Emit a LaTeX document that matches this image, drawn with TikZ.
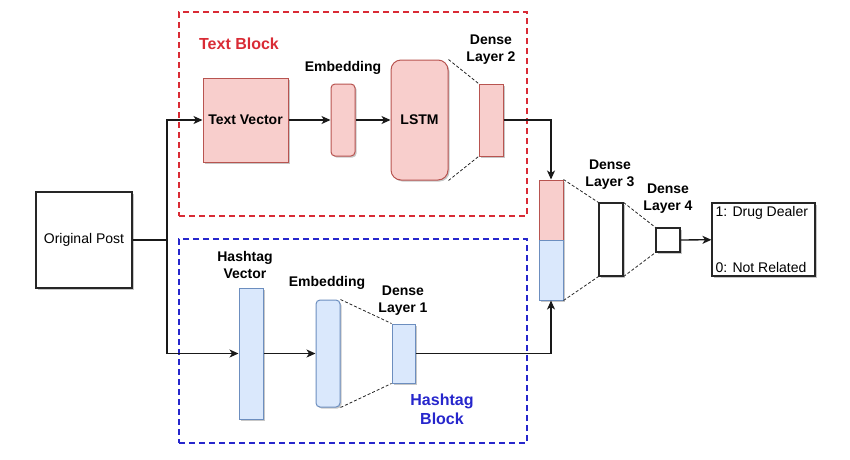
\documentclass[tikz,border=0pt]{standalone}
\usepackage{fontspec}
\setmainfont{Liberation Sans}
\usetikzlibrary{positioning, arrows.meta, shadows}
\definecolor{txtline}{HTML}{b85450}
\definecolor{txtfill}{HTML}{f8cecc}
\definecolor{hashline}{HTML}{6c8ebf}
\definecolor{hashfill}{HTML}{dae8fc}
\definecolor{txtblock}{HTML}{d92b35}
\definecolor{hashblock}{HTML}{2626cc}

\begin{document}
\begin{tikzpicture}[x=1pt, y=-1pt, font=\fontsize{14}{17}\selectfont,
  shd/.style={drop shadow={shadow xshift=1.5pt, shadow yshift=-1.5pt, fill=black, opacity=0.22}},
  tb/.style={draw=txtline, fill=txtfill, line width=1pt, inner sep=0pt, shd},
  hb/.style={draw=hashline, fill=hashfill, line width=1pt, inner sep=0pt, shd},
  pb/.style={draw=black!85, fill=white, line width=1.1pt, inner sep=0pt, shd},
  blk/.style={line width=1.8pt, dash pattern=on 6pt off 4pt, minimum width=348, minimum height=204, inner sep=0pt},
  lbl/.style={font=\fontsize{14}{17}\selectfont\bfseries, align=center, inner sep=0pt},
  arr/.style={-{Stealth[length=9pt, width=8pt, inset=2.5pt]}, line width=1.3pt, black!90},
  ln/.style={line width=1.3pt, black!90},
  fan/.style={densely dashed, line width=0.8pt, black!85}]
\useasboundingbox (0,0) rectangle (850,459);

% blocks
\node[blk, draw=txtblock] (tblock) at (353,114) {};
\node[blk, draw=hashblock] (hblock) at (353,341) {};
\node[lbl, font=\fontsize{16}{19}\selectfont\bfseries, text=txtblock] (tblockl) at (239,44) {Text Block};
\node[lbl, font=\fontsize{16}{19}\selectfont\bfseries, text=hashblock] (hblockl) at (442,409) {Hashtag\\Block};

% input
\node[pb, minimum width=96, minimum height=96] (post) at (84,240) {Original Post};
\coordinate (split) at (167,240);

% text branch
\node[tb, minimum width=85, minimum height=84, font=\fontsize{14}{17}\selectfont\bfseries] (tvec) at (245.5,120) {Text Vector};
\node[tb, rounded corners=4pt, minimum width=24, minimum height=72] (temb) at (343,120) {};
\node[tb, rounded corners=10pt, minimum width=57, minimum height=120, font=\fontsize{14}{17}\selectfont\bfseries] (lstm) at (419.5,120) {LSTM};
\node[tb, minimum width=24, minimum height=72] (dl2) at (491,120) {};
\node[lbl] (tembl) at (343,68) {Embedding};
\node[lbl] (dl2l) at (491,50) {Dense\\Layer 2};

% hashtag branch
\node[hb, minimum width=24, minimum height=131] (hvec) at (251,353.5) {};
\node[hb, rounded corners=4pt, minimum width=24, minimum height=107] (hemb) at (328,353.5) {};
\node[hb, minimum width=23, minimum height=59] (dl1) at (403.5,353.5) {};
\node[lbl] (hvecl) at (245,265) {Hashtag\\Vector};
\node[lbl] (hembl) at (327,283) {Embedding};
\node[lbl] (dl1l) at (403,301) {Dense\\Layer 1};

% merge and output
\node[tb, minimum width=24, minimum height=60] (cattop) at (551,210) {};
\node[hb, minimum width=24, minimum height=60] (catbot) at (551,270) {};
\node[pb, minimum width=24, minimum height=73] (dl3) at (611,239.5) {};
\node[pb, minimum width=24, minimum height=24] (dl4) at (668,240) {};
\node[lbl] (dl3l) at (610,175) {Dense\\Layer 3};
\node[lbl] (dl4l) at (668,199) {Dense\\Layer 4};
\node[pb, minimum width=103, minimum height=73] (out) at (763.5,239.5) {};
\node[anchor=north west, inner sep=4pt] (outa) at (out.north west) {1: Drug Dealer};
\node[anchor=south west, inner sep=4pt] (outb) at (out.south west) {0: Not Related};

% connectors
\draw[ln] (post.east) -- (split);
\draw[arr] (split) |- (tvec.west);
\draw[arr] (split) |- (hvec.west);
\draw[arr] (tvec) -- (temb);
\draw[arr] (temb) -- (lstm);
\draw[arr] (hvec) -- (hemb);
\draw[arr] (dl2.east) -| (cattop.north);
\draw[arr] (dl1.east) -| (catbot.south);
\draw[arr] (dl4) -- (out);

\draw[fan] (lstm.north east) -- (dl2.north west);
\draw[fan] (lstm.south east) -- (dl2.south west);
\draw[fan] (hemb.north east) -- (dl1.north west);
\draw[fan] (hemb.south east) -- (dl1.south west);
\draw[fan] (cattop.north east) -- (dl3.north west);
\draw[fan] (catbot.south east) -- (dl3.south west);
\draw[fan] (dl3.north east) -- (dl4.north west);
\draw[fan] (dl3.south east) -- (dl4.south west);

\end{tikzpicture}
\end{document}
